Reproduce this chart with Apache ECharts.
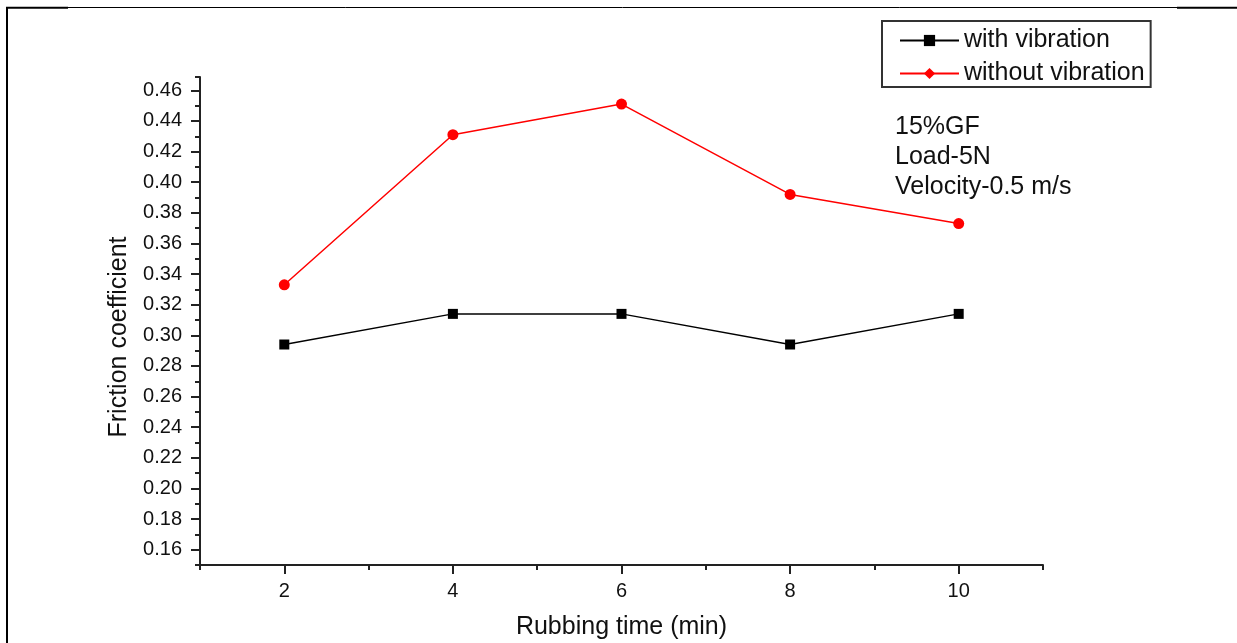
<!DOCTYPE html>
<html>
<head>
<meta charset="utf-8">
<script src="https://cdn.jsdelivr.net/npm/echarts@6/dist/echarts.min.js"></script>
<style>
html,body{margin:0;padding:0;background:#fff;}
#c{width:1237px;height:643px;}
</style>
</head>
<body>
<div id="c"></div>
<script>
// ---- data ----
const xValues = [2, 4, 6, 8, 10];
const withVibration = [0.294, 0.314, 0.314, 0.294, 0.314];
const withoutVibration = [0.333, 0.431, 0.451, 0.392, 0.373];
const xTickLabels = [2, 4, 6, 8, 10];
const yTickLabels = [0.16, 0.18, 0.20, 0.22, 0.24, 0.26, 0.28, 0.30, 0.32, 0.34, 0.36, 0.38, 0.40, 0.42, 0.44, 0.46];
const seriesNames = ['with vibration', 'without vibration'];
const notes = ['15%GF', 'Load-5N', 'Velocity-0.5 m/s'];

const FONT = '"Liberation Sans", Arial, sans-serif';
const AXIS_COLOR = '#222';

const chart = echarts.init(document.getElementById('c'), null, {renderer: 'canvas'});

const pairs = (ys) => xValues.map((x, i) => [x, ys[i]]);

const option = {
  backgroundColor: '#fff',
  animation: false,
  textStyle: {fontFamily: FONT, color: '#111'},
  grid: {left: 200, right: 194, top: 77, bottom: 78, containLabel: false, outerBoundsMode: 'none'},
  legend: {
    orient: 'vertical',
    left: 882, top: 21,
    padding: [7, 6, 1, 17],
    itemGap: 8,
    itemWidth: 59,
    itemHeight: 14,
    borderColor: '#333',
    borderWidth: 2,
    backgroundColor: '#fff',
    textStyle: {fontSize: 25, color: '#111', fontFamily: FONT},
    data: seriesNames
  },
  xAxis: [
    {
      type: 'value', position: 'bottom', min: 1, max: 11, interval: 1,
      axisLine: {show: false},
      axisTick: {show: true, inside: false, length: 5, lineStyle: {color: AXIS_COLOR, width: 2}},
      axisLabel: {show: false},
      splitLine: {show: false}
    },
    {
      type: 'value', position: 'bottom', min: 1, max: 11,
      axisLine: {show: true, onZero: false, lineStyle: {color: AXIS_COLOR, width: 2}},
      axisTick: {show: true, inside: false, length: 9, customValues: xTickLabels, lineStyle: {color: AXIS_COLOR, width: 2}},
      axisLabel: {show: true, customValues: xTickLabels, margin: 16, fontSize: 20, color: '#111', fontFamily: FONT},
      splitLine: {show: false},
      name: 'Rubbing time (min)',
      nameLocation: 'middle',
      nameGap: 50,
      nameTextStyle: {fontSize: 25, color: '#111', fontFamily: FONT}
    }
  ],
  yAxis: [
    {
      type: 'value', position: 'left', min: 0.15, max: 0.4687, interval: 0.01,
      axisLine: {show: false},
      axisTick: {show: true, inside: false, length: 5, lineStyle: {color: AXIS_COLOR, width: 2}},
      axisLabel: {show: false},
      splitLine: {show: false}
    },
    {
      type: 'value', position: 'left', min: 0.15, max: 0.4687,
      axisLine: {show: true, onZero: false, lineStyle: {color: AXIS_COLOR, width: 2}},
      axisTick: {show: true, inside: false, length: 9, customValues: yTickLabels, lineStyle: {color: AXIS_COLOR, width: 2}},
      axisLabel: {show: true, customValues: yTickLabels, margin: 18, fontSize: 20, color: '#111', fontFamily: FONT,
                  formatter: (v) => Number(v).toFixed(2)},
      splitLine: {show: false},
      name: 'Friction coefficient',
      nameLocation: 'middle',
      nameRotate: 90,
      nameGap: 68,
      nameTextStyle: {fontSize: 25, color: '#111', fontFamily: FONT, padding: [0, 32, 0, 0]}
    }
  ],
  series: [
    {
      name: seriesNames[0], type: 'line', xAxisIndex: 1, yAxisIndex: 1,
      data: pairs(withVibration),
      symbol: 'rect', symbolSize: 10,
      lineStyle: {color: '#000', width: 1.5},
      itemStyle: {color: '#000'},
      color: '#000'
    },
    {
      // legend icon (diamond marker) for the red series
      name: seriesNames[1], type: 'line', xAxisIndex: 1, yAxisIndex: 1,
      data: [],
      symbol: 'diamond', symbolSize: 10,
      lineStyle: {color: '#ff0000', width: 1.5},
      itemStyle: {color: '#ff0000'},
      color: '#ff0000'
    },
    {
      name: seriesNames[1], type: 'line', xAxisIndex: 1, yAxisIndex: 1,
      data: pairs(withoutVibration),
      symbol: 'circle', symbolSize: 11,
      lineStyle: {color: '#ff0000', width: 1.5},
      itemStyle: {color: '#ff0000'},
      color: '#ff0000'
    }
  ],
  graphic: [
    {type: 'line', silent: true, shape: {x1: 7, y1: 7, x2: 7, y2: 643}, style: {stroke: '#000', lineWidth: 2}},
    {type: 'line', silent: true, shape: {x1: 6, y1: 7.75, x2: 68, y2: 7.75}, style: {stroke: '#000', lineWidth: 2}},
    {type: 'line', silent: true, shape: {x1: 68, y1: 7.5, x2: 1177, y2: 7.5}, style: {stroke: '#000', lineWidth: 1}},
    {type: 'line', silent: true, shape: {x1: 1177, y1: 7.75, x2: 1237, y2: 7.75}, style: {stroke: '#000', lineWidth: 2}},
    {
      type: 'text', left: 895, top: 112, silent: true,
      style: {text: notes.join('\n'), font: '25px ' + FONT, lineHeight: 30, fill: '#111'}
    }
  ]
};

chart.setOption(option);
</script>
</body>
</html>
